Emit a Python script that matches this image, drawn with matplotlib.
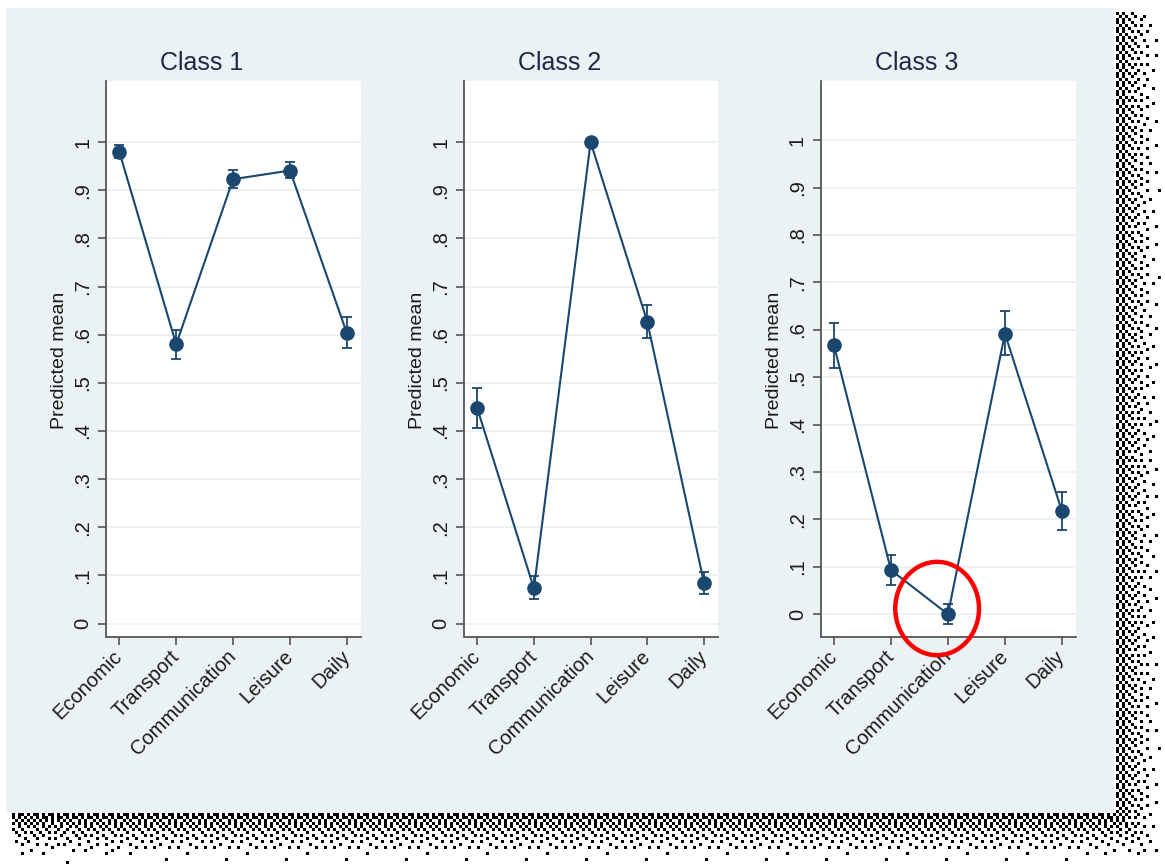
import numpy as np
import matplotlib
matplotlib.use("Agg")
import matplotlib.pyplot as plt
from matplotlib.patches import Rectangle, Ellipse

plt.rcParams['font.family'] = ['Liberation Sans', 'DejaVu Sans']

categories = ["Economic", "Transport", "Communication", "Leisure", "Daily"]
titles = ["Class 1", "Class 2", "Class 3"]

class1_mean = [0.980, 0.580, 0.923, 0.941, 0.603]
class1_lo = [0.967, 0.549, 0.904, 0.925, 0.573]
class1_hi = [0.994, 0.610, 0.942, 0.958, 0.636]

class2_mean = [0.447, 0.073, 1.000, 0.627, 0.085]
class2_lo = [0.406, 0.051, 1.000, 0.594, 0.062]
class2_hi = [0.490, 0.098, 1.000, 0.661, 0.108]

class3_mean = [0.567, 0.093, 0.000, 0.592, 0.218]
class3_lo = [0.520, 0.062, -0.021, 0.546, 0.178]
class3_hi = [0.614, 0.125, 0.021, 0.640, 0.258]

yticks = [0, 0.1, 0.2, 0.3, 0.4, 0.5, 0.6, 0.7, 0.8, 0.9, 1.0]
ytick_labels = ["0", ".1", ".2", ".3", ".4", ".5", ".6", ".7", ".8", ".9", "1"]

W, H = 1165, 864
DPI = 100
NAVY = "#1A476F"
BG = "#EAF2F3"
GRID = "#EAF2F3"

fig = plt.figure(figsize=(W / DPI, H / DPI), dpi=DPI)
fig.patch.set_facecolor("white")


def fx(x):
    return x / W


def fy(y):
    return 1 - y / H


# graph region
fig.patches.append(Rectangle((fx(6), fy(813)), fx(1114) - fx(6), fy(8) - fy(813),
                             transform=fig.transFigure, facecolor=BG,
                             edgecolor="none", zorder=0))

# drop shadow along the right and bottom edges, error-diffused into 3 px dots
cell = 3
nx, ny = W // cell + 1, H // cell + 1
dens = np.zeros((ny, nx))
for j in range(ny):
    for i in range(nx):
        px_, py_ = i * cell, j * cell
        d = None
        if px_ >= 1114 and py_ >= 12:
            d = px_ - 1114
        if py_ >= 813 and px_ >= 10:
            d2 = py_ - 813
            d = d2 if d is None else max(d, d2)
        if d is not None:
            dens[j, i] = 0.6 * max(0.0, 1 - d / 52) ** 1.5
on = np.zeros_like(dens, dtype=bool)
err = dens.copy()
for j in range(ny):
    for i in range(nx):
        v = err[j, i]
        if dens[j, i] <= 0:
            continue
        bit = v >= 0.5
        on[j, i] = bit
        e = v - (1.0 if bit else 0.0)
        if i + 1 < nx:
            err[j, i + 1] += e * 7 / 16
        if j + 1 < ny:
            if i > 0:
                err[j + 1, i - 1] += e * 3 / 16
            err[j + 1, i] += e * 5 / 16
            if i + 1 < nx:
                err[j + 1, i + 1] += e * 1 / 16
img = np.zeros((H, W, 4))
for j, i in zip(*np.nonzero(on)):
    img[j * cell:(j + 1) * cell, i * cell:(i + 1) * cell] = [0, 0, 0, 1]
fig.figimage(img, 0, 0, origin="upper", zorder=1)

panels = [
    (106, 361, (-0.027, 1.127), class1_mean, class1_lo, class1_hi),
    (464, 718, (-0.027, 1.127), class2_mean, class2_lo, class2_hi),
    (820.7, 1076, (-0.047, 1.125), class3_mean, class3_lo, class3_hi),
]
top, bottom = 81, 636.5

axes = []
for k, (l, r, ylim, mean, lo, hi) in enumerate(panels):
    ax = fig.add_axes([fx(l), fy(bottom), fx(r) - fx(l), fy(top) - fy(bottom)], zorder=2)
    axes.append(ax)
    ax.set_facecolor("white")
    x = np.arange(len(categories))
    mean = np.array(mean)
    yerr = np.vstack([mean - np.array(lo), np.array(hi) - mean])
    ax.errorbar(x, mean, yerr=yerr, fmt="none", ecolor=NAVY, elinewidth=1.3,
                capsize=3.6, capthick=1.3, zorder=3)
    ax.plot(x, mean, color=NAVY, linewidth=1.5, marker="o", markersize=9.5,
            markerfacecolor=NAVY, markeredgecolor=NAVY, zorder=4)
    ax.set_xlim(-0.234, 4.248)
    ax.set_ylim(*ylim)
    ax.set_yticks(yticks)
    ax.set_yticklabels(ytick_labels, rotation=90, va="center", fontsize=14.5,
                       color="#1a1a1a")
    ax.set_xticks(x)
    ax.set_xticklabels(categories, rotation=45, ha="right", va="center",
                       rotation_mode="anchor", fontsize=14.5, color="#1a1a1a")
    ax.tick_params(axis="both", direction="out", length=6, width=1.2, color="#555555")
    ax.tick_params(axis="y", pad=4)
    ax.tick_params(axis="x", pad=6)
    ax.grid(axis="y", color=GRID, linewidth=1.4)
    ax.set_axisbelow(True)
    for s in ["top", "right"]:
        ax.spines[s].set_visible(False)
    for s in ["left", "bottom"]:
        ax.spines[s].set_color("#555555")
        ax.spines[s].set_linewidth(1.3)
    # title and axis label
    fig.text(fx((l + r) / 2 - 31.5), fy(63), titles[k], ha="center", va="center",
             fontsize=18, color="#1c2a4a")
    fig.text(fx(l - 46), fy(360), "Predicted mean", rotation=90, ha="center",
             va="center", fontsize=14, color="#1a1a1a")

# highlight on the near-zero Communication estimate in Class 3
axes[2].add_patch(Ellipse((1.81, 0.012), 1.47, 0.197, fill=False, edgecolor="#ff0000",
                          linewidth=3.2, clip_on=False, zorder=6))

fig.savefig("out.png", dpi=DPI)
